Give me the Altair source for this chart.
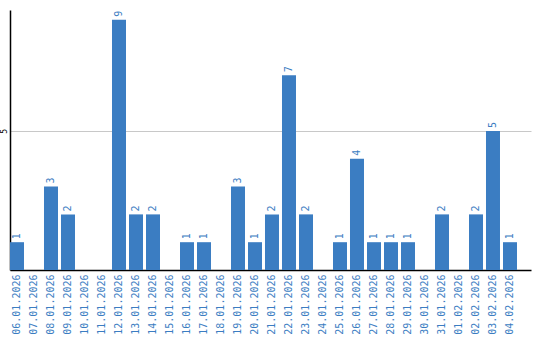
import altair as alt
import pandas as pd

dates = ["06.01.2026", "07.01.2026", "08.01.2026", "09.01.2026", "10.01.2026",
         "11.01.2026", "12.01.2026", "13.01.2026", "14.01.2026", "15.01.2026",
         "16.01.2026", "17.01.2026", "18.01.2026", "19.01.2026", "20.01.2026",
         "21.01.2026", "22.01.2026", "23.01.2026", "24.01.2026", "25.01.2026",
         "26.01.2026", "27.01.2026", "28.01.2026", "29.01.2026", "30.01.2026",
         "31.01.2026", "01.02.2026", "02.02.2026", "03.02.2026", "04.02.2026"]
counts = [1, 0, 3, 2, 0, 0, 9, 2, 2, 0, 1, 1, 0, 3, 1, 2, 7, 2, 0, 1,
          4, 1, 1, 1, 0, 2, 0, 2, 5, 1]

df = pd.DataFrame({"date": dates, "count": counts})
nz = df[df["count"] > 0]

BLUE = "#3b7dc2"
FONT = "DejaVu Sans Mono"

x = alt.X("date:N", sort=dates, title=None,
          scale=alt.Scale(domain=dates, paddingInner=3/17, paddingOuter=0.412, align=0),
          axis=alt.Axis(labelAngle=270, labelColor=BLUE, labelFont=FONT,
                        labelFontSize=10, ticks=False, labelPadding=4,
                        domainColor="black", domainWidth=1.5, grid=False,
                        labelAlign="right", labelBaseline="middle"))
y = alt.Y("count:Q", title=None,
          scale=alt.Scale(domain=[0, 9.35], nice=False, zero=True),
          axis=alt.Axis(values=[5], labelAngle=270, labelFont=FONT,
                        labelFontSize=8, labelColor="black", ticks=False,
                        labelAlign="center", labelBaseline="bottom",
                        labelPadding=2, domainColor="black", domainWidth=1.5,
                        grid=True, gridColor="#c8c8c8", gridWidth=1))

bars = alt.Chart(nz).mark_bar(color=BLUE).encode(x=x, y=y)
labels = alt.Chart(nz).mark_text(angle=270, align="left", baseline="middle",
                                 dx=3, color=BLUE, font=FONT, fontSize=10).encode(
    x=alt.X("date:N", sort=dates), y="count:Q", text="count:Q")

chart = alt.layer(bars, labels, data=df).properties(
    width=521, height=260,
    background="white",
    autosize=alt.AutoSizeParams(type="none"),
    padding={"left": 10, "top": 10, "right": 9, "bottom": 70},
).configure_view(stroke=None)

chart.save("out.html", embed_options={"renderer": "svg", "actions": False})
